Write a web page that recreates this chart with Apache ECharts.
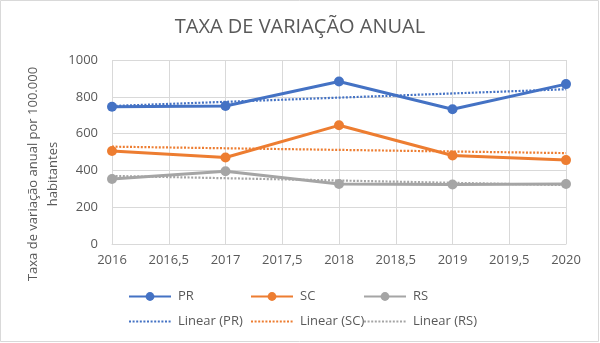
<!DOCTYPE html>
<html>
<head>
<meta charset="utf-8">
<script src="https://cdn.jsdelivr.net/npm/echarts@6/dist/echarts.min.js"></script>
<style>
  html, body { margin: 0; padding: 0; background: #fff; }
  #chart { width: 600px; height: 343px; }
</style>
</head>
<body>
<div id="chart"></div>
<script>
// Anos observados
const years = [2016, 2017, 2018, 2019, 2020];

// Taxa de variação anual por 100.000 habitantes
const prValues = [746, 750, 883, 732, 869];
const scValues = [505, 470, 645, 481, 456];
const rsValues = [353, 395, 326, 323, 326];

// Linhas de tendência linear (valores no primeiro e no último ano)
const trendYears = [2016, 2020];
const prTrend = [750, 841];
const scTrend = [529, 494];
const rsTrend = [370, 320];

const yTicks = [0, 200, 400, 600, 800, 1000];

const FONT = 'Open Sans';
const TEXT = '#595959';
const GRID = '#d9d9d9';
const C_PR = '#4472C4', C_SC = '#ED7D31', C_RS = '#A5A5A5';

const pairs = (xs, ys) => xs.map((x, i) => [x, ys[i]]);

function dataSeries(name, values, color) {
  return {
    name, type: 'line', data: pairs(years, values),
    symbol: 'circle', symbolSize: 10, z: 2,
    lineStyle: { color, width: 3 },
    itemStyle: { color },
    emphasis: { disabled: true }
  };
}
function trendSeries(name, values, color) {
  return {
    name, type: 'line', data: pairs(trendYears, values),
    symbol: 'none', z: 3,
    lineStyle: { color, width: 2.2, type: [2, 1.6] },
    itemStyle: { color },
    emphasis: { disabled: true }
  };
}

// Uma legenda por item, para dispor as entradas em grade (3 colunas x 2 linhas)
function legendAt(name, left, top, lineOnly) {
  const lg = {
    data: [name], left, top, padding: 0,
    itemWidth: 42, itemHeight: 11, itemGap: 0,
    textStyle: { fontFamily: FONT, fontSize: 13, color: TEXT, padding: [0, 0, 0, 2] },
    selectedMode: false
  };
  if (lineOnly) lg.itemStyle = { opacity: 0 };
  return lg;
}

const chart = echarts.init(document.getElementById('chart'), null, { renderer: 'canvas' });
chart.setOption({
  animation: false,
  backgroundColor: '#fff',
  title: {
    text: 'TAXA DE VARIAÇÃO ANUAL',
    left: 'center', top: 12,
    textStyle: { fontFamily: FONT, fontSize: 20, fontWeight: 'normal', color: TEXT }
  },
  graphic: [
    {
      type: 'rect', silent: true, z: -1,
      shape: { x: 0.5, y: 0.5, width: 598, height: 341 },
      style: { fill: 'none', stroke: GRID, lineWidth: 1 }
    },
    {
      type: 'text', silent: true,
      x: 43, y: 174, rotation: Math.PI / 2,
      style: {
        text: 'Taxa de variação anual por 100.000\nhabitantes',
        fontFamily: FONT, fontSize: 13, fill: TEXT,
        align: 'center', verticalAlign: 'middle', lineHeight: 20
      }
    }
  ],
  legend: [
    legendAt('PR', 128, 290),
    legendAt('SC', 250, 290),
    legendAt('RS', 363, 290),
    legendAt('Linear (PR)', 128, 315, true),
    legendAt('Linear (SC)', 250, 315, true),
    legendAt('Linear (RS)', 363, 315, true)
  ],
  grid: { left: 112, right: 34, top: 60, bottom: 99, containLabel: false },
  xAxis: {
    type: 'value', min: 2016, max: 2020, interval: 0.5,
    axisLine: { show: true, lineStyle: { color: GRID, width: 1 } },
    axisTick: { show: false },
    splitLine: { show: true, lineStyle: { color: GRID, width: 1 } },
    axisLabel: {
      fontFamily: FONT, fontSize: 13, color: TEXT, margin: 10,
      formatter: v => String(v).replace('.', ',')
    }
  },
  yAxis: {
    type: 'value', min: yTicks[0], max: yTicks[yTicks.length - 1], interval: yTicks[1] - yTicks[0],
    axisLine: { show: false },
    axisTick: { show: false },
    splitLine: { show: true, lineStyle: { color: GRID, width: 1 } },
    axisLabel: { fontFamily: FONT, fontSize: 13, color: TEXT, margin: 14, formatter: v => String(v) }
  },
  series: [
    dataSeries('PR', prValues, C_PR),
    dataSeries('SC', scValues, C_SC),
    dataSeries('RS', rsValues, C_RS),
    trendSeries('Linear (PR)', prTrend, C_PR),
    trendSeries('Linear (SC)', scTrend, C_SC),
    trendSeries('Linear (RS)', rsTrend, C_RS)
  ]
});
</script>
</body>
</html>
